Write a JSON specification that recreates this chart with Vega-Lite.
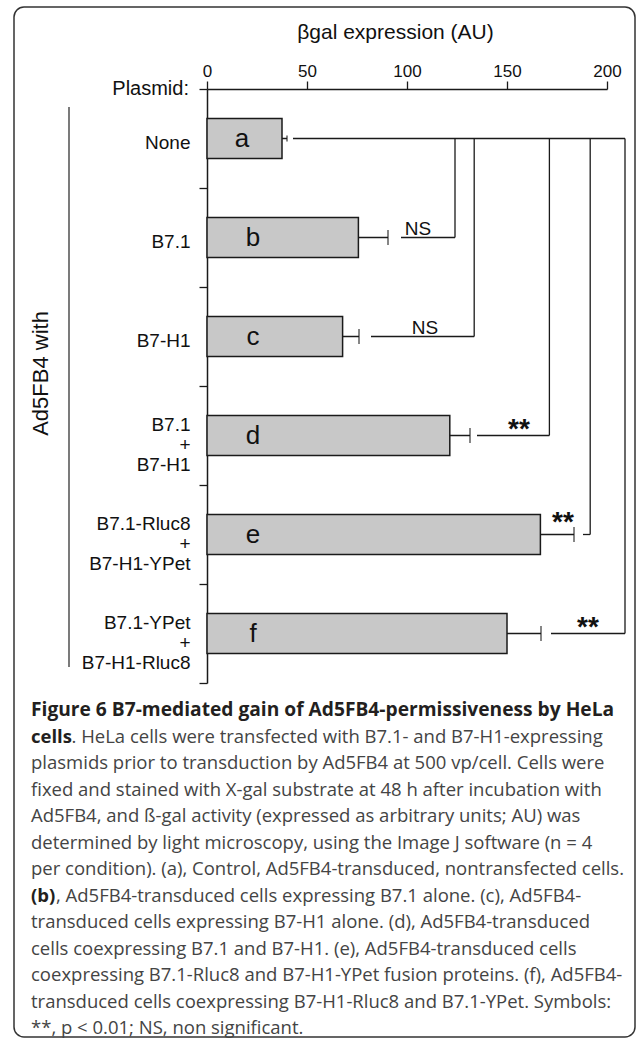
{
  "$schema": "https://vega.github.io/schema/vega-lite/v6.json",
  "width": 400,
  "height": 594,
  "autosize": "none",
  "padding": {"left": 207, "top": 89, "right": 31, "bottom": 364},
  "background": "white",
  "config": {"view": {"stroke": null}, "font": "Liberation Sans"},
  "datasets": {
    "bars": [
      {"letter": "a", "plasmid": "None", "value": 37.5, "err": 40},
      {"letter": "b", "plasmid": "B7.1", "value": 75.7, "err": 90.5},
      {"letter": "c", "plasmid": "B7-H1", "value": 67.8, "err": 76},
      {"letter": "d", "plasmid": "B7.1\n+\nB7-H1", "value": 121.4, "err": 131.5},
      {"letter": "e", "plasmid": "B7.1-Rluc8\n+\nB7-H1-YPet", "value": 166.7, "err": 183.5},
      {"letter": "f", "plasmid": "B7.1-YPet\n+\nB7-H1-Rluc8", "value": 150, "err": 167}
    ],
    "hseg": [
      {"letter": "a", "x1": 43, "x2": 209},
      {"letter": "b", "x1": 97, "x2": 124},
      {"letter": "c", "x1": 82, "x2": 133.6},
      {"letter": "d", "x1": 135, "x2": 171.2},
      {"letter": "e", "x1": 188, "x2": 191.6},
      {"letter": "f", "x1": 172, "x2": 209}
    ],
    "vseg": [
      {"x": 124, "from": "a", "to": "b"},
      {"x": 133.6, "from": "a", "to": "c"},
      {"x": 171.2, "from": "a", "to": "d"},
      {"x": 191.6, "from": "a", "to": "e"},
      {"x": 209, "from": "a", "to": "f"}
    ],
    "sig": [
      {"letter": "b", "x": 105.5, "label": "NS"},
      {"letter": "c", "x": 109, "label": "NS"},
      {"letter": "d", "x": 156, "label": "**"},
      {"letter": "e", "x": 178, "label": "**"},
      {"letter": "f", "x": 190.5, "label": "**"}
    ]
  },
  "layer": [
    {
      "data": {"name": "bars"},
      "mark": {"type": "bar", "height": {"band": 0.405}, "fill": "#c8c8c8", "stroke": "#1a1a1a", "strokeWidth": 1.5},
      "encoding": {
        "x": {
          "field": "value", "type": "quantitative",
          "scale": {"domain": [0, 200], "nice": false, "zero": true},
          "axis": {
            "orient": "top", "values": [0, 50, 100, 150, 200], "grid": false,
            "tickSize": 8, "tickWidth": 1.3, "tickColor": "#1a1a1a",
            "domainColor": "#1a1a1a", "domainWidth": 1.5,
            "labelFontSize": 17, "labelColor": "#111", "labelPadding": 1, "labelFlush": false,
            "title": "βgal expression (AU)", "titleFontSize": 21, "titleFontWeight": "normal",
            "titleColor": "#111", "titleX": 188, "titleY": -57, "titleBaseline": "middle", "titleAlign": "center"
          }
        },
        "y": {
          "field": "plasmid", "type": "nominal", "sort": null,
          "scale": {"paddingInner": 0, "paddingOuter": 0},
          "axis": {
            "orient": "left", "tickBand": "extent", "tickSize": 8, "tickWidth": 1.3, "tickColor": "#1a1a1a",
            "domainColor": "#1a1a1a", "domainWidth": 1.5,
            "labelFontSize": 19, "labelColor": "#111", "labelPadding": 9, "labelLineHeight": 20,
            "labelOffset": {"condition": {"test": "indexof(datum.label, '\\n') >= 0", "value": -11}, "value": 4},
            "labelExpr": "split(datum.label, '\\n')",
            "title": "Ad5FB4 with", "titleFontSize": 22, "titleFontWeight": "normal", "titleColor": "#111",
            "titleAngle": 270, "titleX": -167, "titleY": 284, "titleBaseline": "middle", "titleAlign": "center"
          }
        }
      }
    },
    {
      "data": {"name": "bars"},
      "transform": [{"filter": "datum.letter == 'a'"}],
      "mark": {"type": "text", "fontSize": 26, "color": "#111", "baseline": "middle", "align": "center"},
      "encoding": {
        "x": {"datum": 17.5},
        "y": {"field": "plasmid", "type": "nominal", "sort": null},
        "text": {"field": "letter"}
      }
    },
    {
      "data": {"name": "bars"},
      "transform": [{"filter": "datum.letter != 'a'"}],
      "mark": {"type": "text", "fontSize": 26, "color": "#111", "baseline": "middle", "align": "center"},
      "encoding": {
        "x": {"datum": 23},
        "y": {"field": "plasmid", "type": "nominal", "sort": null},
        "text": {"field": "letter"}
      }
    },
    {
      "data": {"name": "bars"},
      "mark": {"type": "rule", "color": "#1a1a1a", "strokeWidth": 1.5},
      "encoding": {
        "x": {"field": "value", "type": "quantitative"},
        "x2": {"field": "err"},
        "y": {"field": "plasmid", "type": "nominal", "sort": null}
      }
    },
    {
      "data": {"name": "bars"},
      "transform": [{"filter": "datum.letter != 'a'"}],
      "mark": {"type": "tick", "color": "#1a1a1a", "thickness": 1.5, "size": 15},
      "encoding": {
        "x": {"field": "err", "type": "quantitative"},
        "y": {"field": "plasmid", "type": "nominal", "sort": null}
      }
    },
    {
      "data": {"name": "bars"},
      "transform": [{"filter": "datum.letter == 'a'"}],
      "mark": {"type": "tick", "color": "#1a1a1a", "thickness": 1.5, "size": 6},
      "encoding": {
        "x": {"field": "err", "type": "quantitative"},
        "y": {"field": "plasmid", "type": "nominal", "sort": null}
      }
    },
    {
      "data": {"name": "hseg"},
      "transform": [{"lookup": "letter", "from": {"data": {"name": "bars"}, "key": "letter", "fields": ["plasmid"]}}],
      "mark": {"type": "rule", "color": "#1a1a1a", "strokeWidth": 1.3},
      "encoding": {
        "x": {"field": "x1", "type": "quantitative"},
        "x2": {"field": "x2"},
        "y": {"field": "plasmid", "type": "nominal", "sort": null}
      }
    },
    {
      "data": {"name": "vseg"},
      "transform": [
        {"lookup": "from", "from": {"data": {"name": "bars"}, "key": "letter", "fields": ["plasmid"]}, "as": ["pfrom"]},
        {"lookup": "to", "from": {"data": {"name": "bars"}, "key": "letter", "fields": ["plasmid"]}, "as": ["pto"]}
      ],
      "mark": {"type": "rule", "color": "#1a1a1a", "strokeWidth": 1.3},
      "encoding": {
        "x": {"field": "x", "type": "quantitative"},
        "y": {"field": "pfrom", "type": "nominal", "sort": null},
        "y2": {"field": "pto"}
      }
    },
    {
      "data": {"name": "sig"},
      "transform": [
        {"filter": "datum.label == 'NS'"},
        {"lookup": "letter", "from": {"data": {"name": "bars"}, "key": "letter", "fields": ["plasmid"]}}
      ],
      "mark": {"type": "text", "fontSize": 19, "color": "#111", "baseline": "alphabetic", "align": "center", "dy": -3},
      "encoding": {
        "x": {"field": "x", "type": "quantitative"},
        "y": {"field": "plasmid", "type": "nominal", "sort": null},
        "text": {"field": "label"}
      }
    },
    {
      "data": {"name": "sig"},
      "transform": [
        {"filter": "datum.label == '**' && datum.letter != 'e'"},
        {"lookup": "letter", "from": {"data": {"name": "bars"}, "key": "letter", "fields": ["plasmid"]}}
      ],
      "mark": {"type": "text", "fontSize": 28, "fontWeight": "bold", "color": "#111", "baseline": "alphabetic", "align": "center", "dy": 2},
      "encoding": {
        "x": {"field": "x", "type": "quantitative"},
        "y": {"field": "plasmid", "type": "nominal", "sort": null},
        "text": {"field": "label"}
      }
    },
    {
      "data": {"name": "sig"},
      "transform": [
        {"filter": "datum.letter == 'e'"},
        {"lookup": "letter", "from": {"data": {"name": "bars"}, "key": "letter", "fields": ["plasmid"]}}
      ],
      "mark": {"type": "text", "fontSize": 28, "fontWeight": "bold", "color": "#111", "baseline": "alphabetic", "align": "center", "dy": -4},
      "encoding": {
        "x": {"field": "x", "type": "quantitative"},
        "y": {"field": "plasmid", "type": "nominal", "sort": null},
        "text": {"field": "label"}
      }
    },
    {
      "data": {"values": [{}]},
      "mark": {"type": "text", "text": "Plasmid:", "fontSize": 20, "color": "#111", "align": "right", "baseline": "middle", "dx": -18, "yOffset": -49.5},
      "encoding": {"x": {"datum": 0}, "y": {"datum": "None"}}
    },
    {
      "data": {"values": [{}]},
      "mark": {"type": "rule", "color": "#333", "strokeWidth": 1.3, "yOffset": -31.5, "y2Offset": 528.5},
      "encoding": {"x": {"datum": -69}, "y": {"datum": "None"}, "y2": {"datum": "None"}}
    },
    {
      "data": {"values": [{}]},
      "mark": {"type": "rect", "fill": null, "stroke": "#333", "strokeWidth": 1.5, "cornerRadius": 10, "yOffset": -131.5, "y2Offset": 898.5},
      "encoding": {"x": {"datum": -96.5}, "x2": {"datum": 214}, "y": {"datum": "None"}, "y2": {"datum": "None"}}
    },
    {
      "data": {"values": [{}]},
      "mark": {"type": "text", "font": "Open Sans", "fontSize": 19.2, "fontWeight": "bold", "color": "#231f20", "align": "left", "baseline": "alphabetic", "yOffset": 577.5,
        "text": "Figure 6 B7-mediated gain of Ad5FB4-permissiveness by HeLa"},
      "encoding": {"x": {"datum": -88}, "y": {"datum": "None"}}
    },
    {
      "data": {"values": [{}]},
      "mark": {"type": "text", "font": "Open Sans", "fontSize": 18.5, "fontWeight": "bold", "color": "#231f20", "align": "left", "baseline": "alphabetic", "yOffset": 604,
        "text": "cells"},
      "encoding": {"x": {"datum": -88}, "y": {"datum": "None"}}
    },
    {
      "data": {"values": [{}]},
      "mark": {"type": "text", "font": "Open Sans", "fontSize": 18.5, "color": "#444", "align": "left", "baseline": "alphabetic", "yOffset": 604, "dx": 40.5,
        "text": ". HeLa cells were transfected with B7.1- and B7-H1-expressing"},
      "encoding": {"x": {"datum": -88}, "y": {"datum": "None"}}
    },
    {
      "data": {"values": [{}]},
      "mark": {"type": "text", "font": "Open Sans", "fontSize": 18.5, "color": "#444", "align": "left", "baseline": "alphabetic", "lineHeight": 26.5, "yOffset": 630.5,
        "text": ["plasmids prior to transduction by Ad5FB4 at 500 vp/cell. Cells were", "fixed and stained with X-gal substrate at 48 h after incubation with", "Ad5FB4, and ß-gal activity (expressed as arbitrary units; AU) was", "determined by light microscopy, using the Image J software (n = 4", "per condition). (a), Control, Ad5FB4-transduced, nontransfected cells."]},
      "encoding": {"x": {"datum": -88}, "y": {"datum": "None"}}
    },
    {
      "data": {"values": [{}]},
      "mark": {"type": "text", "font": "Open Sans", "fontSize": 18.5, "fontWeight": "bold", "color": "#231f20", "align": "left", "baseline": "alphabetic", "yOffset": 763,
        "text": "(b)"},
      "encoding": {"x": {"datum": -88}, "y": {"datum": "None"}}
    },
    {
      "data": {"values": [{}]},
      "mark": {"type": "text", "font": "Open Sans", "fontSize": 18.5, "color": "#444", "align": "left", "baseline": "alphabetic", "yOffset": 763, "dx": 25,
        "text": ", Ad5FB4-transduced cells expressing B7.1 alone. (c), Ad5FB4-"},
      "encoding": {"x": {"datum": -88}, "y": {"datum": "None"}}
    },
    {
      "data": {"values": [{}]},
      "mark": {"type": "text", "font": "Open Sans", "fontSize": 18.5, "color": "#444", "align": "left", "baseline": "alphabetic", "lineHeight": 26.5, "yOffset": 789.5,
        "text": ["transduced cells expressing B7-H1 alone. (d), Ad5FB4-transduced", "cells coexpressing B7.1 and B7-H1. (e), Ad5FB4-transduced cells", "coexpressing B7.1-Rluc8 and B7-H1-YPet fusion proteins. (f), Ad5FB4-", "transduced cells coexpressing B7-H1-Rluc8 and B7.1-YPet. Symbols:", "**, p < 0.01; NS, non significant."]},
      "encoding": {"x": {"datum": -88}, "y": {"datum": "None"}}
    }
  ]
}
